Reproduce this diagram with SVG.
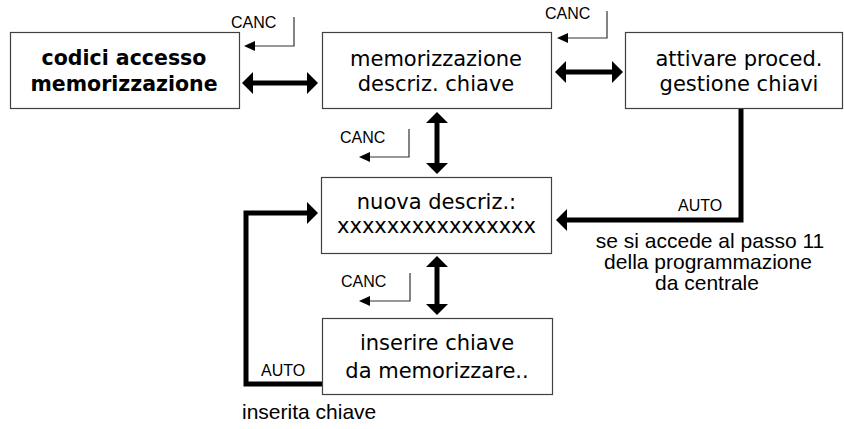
<svg xmlns="http://www.w3.org/2000/svg" width="844" height="429" viewBox="0 0 844 429">
<style>
  .box { fill: #ffffff; stroke: #404040; stroke-width: 1.2; }
  .bt { font-family: "DejaVu Sans", Verdana, sans-serif; font-size: 21px; fill: #000; text-anchor: middle; }
  .bb { font-family: "DejaVu Sans", Verdana, sans-serif; font-size: 20.5px; font-weight: bold; fill: #000; text-anchor: middle; }
  .lbl { font-family: "Liberation Sans", Arial, sans-serif; font-size: 16px; fill: #000; }
  .note { font-family: "Liberation Sans", Arial, sans-serif; font-size: 21px; fill: #000; }
  .thick { fill: none; stroke: #000; stroke-width: 5; stroke-linejoin: miter; }
  .thin { fill: none; stroke: #333; stroke-width: 1.2; }
</style>
<defs>
  <marker id="big" viewBox="0 0 11 22" markerWidth="11" markerHeight="22" refX="0" refY="11" orient="auto-start-reverse" markerUnits="userSpaceOnUse" overflow="visible">
    <path d="M0,0 L11,11 L0,22 Z" fill="#000"/>
  </marker>
  <marker id="small" viewBox="0 0 11 10" markerWidth="11" markerHeight="10" refX="0" refY="5" orient="auto-start-reverse" markerUnits="userSpaceOnUse" overflow="visible">
    <path d="M0,0 L11,5 L0,10 Z" fill="#000"/>
  </marker>
</defs>

<g id="connectors">
  <line class="thick" x1="253" y1="83" x2="307" y2="83" marker-start="url(#big)" marker-end="url(#big)"/>
  <line class="thick" x1="566" y1="72" x2="612" y2="72" marker-start="url(#big)" marker-end="url(#big)"/>
  <line class="thick" x1="437" y1="123" x2="437" y2="163" marker-start="url(#big)" marker-end="url(#big)"/>
  <line class="thick" x1="437" y1="267" x2="437" y2="304" marker-start="url(#big)" marker-end="url(#big)"/>
  <path class="thick" d="M322,384 L246,384 L246,213 L307,213" marker-end="url(#big)"/>
  <path class="thick" d="M741,108 L741,220 L567,220" marker-end="url(#big)"/>
  <path class="thin" d="M294,17 L294,46 L255,46" marker-end="url(#small)"/>
  <path class="thin" d="M607,11 L607,38 L568,38" marker-end="url(#small)"/>
  <path class="thin" d="M409,129 L409,157 L370,157" marker-end="url(#small)"/>
  <path class="thin" d="M410,273 L410,301 L370,301" marker-end="url(#small)"/>
  <text class="lbl" x="231" y="27.5">CANC</text>
  <text class="lbl" x="545" y="19">CANC</text>
  <text class="lbl" x="340" y="143">CANC</text>
  <text class="lbl" x="341" y="287">CANC</text>
  <text class="lbl" x="678" y="211">AUTO</text>
  <text class="lbl" x="261" y="376">AUTO</text>
  <text class="note" x="710" y="248" text-anchor="middle">se si accede al passo 11</text>
  <text class="note" x="708" y="269" text-anchor="middle">della programmazione</text>
  <text class="note" x="707" y="290" text-anchor="middle">da centrale</text>
  <text class="note" x="242" y="419">inserita chiave</text>
</g>

<g id="codici">
  <rect class="box" x="10.5" y="32.5" width="229" height="76"/>
  <text class="bb" x="124" y="65">codici accesso</text>
  <text class="bb" x="124" y="91">memorizzazione</text>
</g>
<g id="memorizzazione">
  <rect class="box" x="322.5" y="32.5" width="229" height="76"/>
  <text class="bt" x="436" y="65.5">memorizzazione</text>
  <text class="bt" x="436" y="90.5">descriz. chiave</text>
</g>
<g id="attivare">
  <rect class="box" x="625.5" y="32.5" width="217" height="76"/>
  <text class="bt" x="739" y="65.5">attivare proced.</text>
  <text class="bt" x="739" y="90.5">gestione chiavi</text>
</g>
<g id="nuova">
  <rect class="box" x="321.5" y="177.5" width="230" height="76"/>
  <text class="bt" x="436.5" y="208.5">nuova descriz.:</text>
  <text class="bt" x="436.5" y="232.5">xxxxxxxxxxxxxxxx</text>
</g>
<g id="inserire">
  <rect class="box" x="322.5" y="318.5" width="230" height="76"/>
  <text class="bt" x="437" y="350">inserire chiave</text>
  <text class="bt" x="437" y="378">da memorizzare..</text>
</g>
</svg>
